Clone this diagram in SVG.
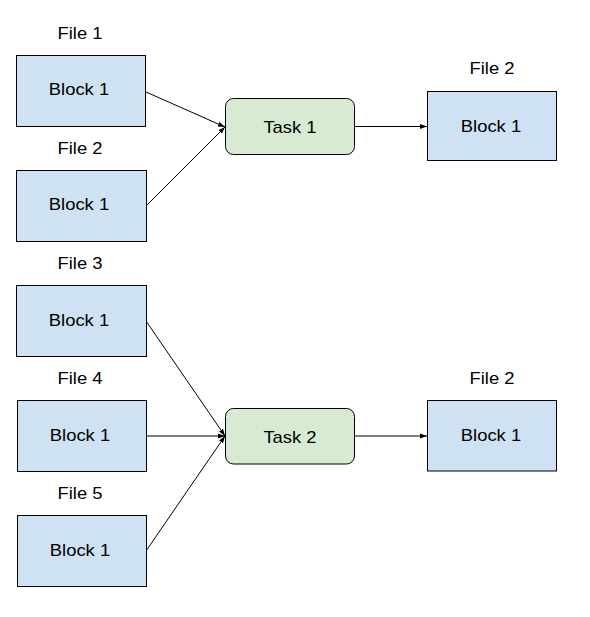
<svg xmlns="http://www.w3.org/2000/svg" width="590" height="617" viewBox="0 0 590 617">
<defs>
<style>
.blk{fill:#cfe2f3;stroke:#000;stroke-width:1}
.tsk{fill:#d9ead3;stroke:#000;stroke-width:1}
text{font-family:"Liberation Sans",Arial,sans-serif;font-size:16px;fill:#000;text-anchor:middle}
.c{fill:none;stroke:#000;stroke-width:1}
</style>
<marker id="ah" viewBox="0 0 10 10" refX="10" refY="5" markerWidth="7" markerHeight="7" markerUnits="userSpaceOnUse" orient="auto">
<path d="M0,1.5 L10,5 L0,8.5 Z" fill="#000"/>
</marker>
</defs>
<rect width="590" height="617" fill="#fff"/>
<g id="connectors">
<line class="c" x1="146" y1="92" x2="225" y2="127" marker-end="url(#ah)"/>
<line class="c" x1="146" y1="206" x2="225" y2="127" marker-end="url(#ah)"/>
<line class="c" x1="355" y1="126.5" x2="427" y2="126.5" marker-end="url(#ah)"/>
<line class="c" x1="146" y1="321" x2="225" y2="436" marker-end="url(#ah)"/>
<line class="c" x1="146" y1="436" x2="225" y2="436" marker-end="url(#ah)"/>
<line class="c" x1="146" y1="551" x2="225" y2="436" marker-end="url(#ah)"/>
<line class="c" x1="355" y1="436" x2="427" y2="436" marker-end="url(#ah)"/>
</g>
<g id="file1">
<text transform="translate(80 39) scale(1.15 1)">File 1</text>
<rect class="blk" x="16.5" y="55.5" width="129" height="71"/>
<text transform="translate(79 95) scale(1.15 1)">Block 1</text>
</g>
<g id="file2a">
<text transform="translate(80 154) scale(1.15 1)">File 2</text>
<rect class="blk" x="16.5" y="170.5" width="130" height="71"/>
<text transform="translate(79 210) scale(1.15 1)">Block 1</text>
</g>
<g id="task1">
<rect class="tsk" x="225.5" y="98.5" width="129" height="56" rx="8"/>
<text transform="translate(290 133) scale(1.15 1)">Task 1</text>
</g>
<g id="out1">
<text transform="translate(492 74) scale(1.15 1)">File 2</text>
<rect class="blk" x="427.5" y="91.5" width="129" height="69"/>
<text transform="translate(491 131.5) scale(1.15 1)">Block 1</text>
</g>
<g id="file3">
<text transform="translate(80 268.5) scale(1.15 1)">File 3</text>
<rect class="blk" x="16.5" y="285.5" width="130" height="71"/>
<text transform="translate(79 326) scale(1.15 1)">Block 1</text>
</g>
<g id="file4">
<text transform="translate(80 383.5) scale(1.15 1)">File 4</text>
<rect class="blk" x="17.5" y="400.5" width="129" height="71"/>
<text transform="translate(80 441) scale(1.15 1)">Block 1</text>
</g>
<g id="file5">
<text transform="translate(80 498.5) scale(1.15 1)">File 5</text>
<rect class="blk" x="17.5" y="515.5" width="129" height="71"/>
<text transform="translate(80 556) scale(1.15 1)">Block 1</text>
</g>
<g id="task2">
<rect class="tsk" x="225.5" y="408.5" width="129" height="55.5" rx="8"/>
<text transform="translate(290 443) scale(1.15 1)">Task 2</text>
</g>
<g id="out2">
<text transform="translate(492 384) scale(1.15 1)">File 2</text>
<rect class="blk" x="427.5" y="400.5" width="129" height="70.5"/>
<text transform="translate(491 441) scale(1.15 1)">Block 1</text>
</g>
</svg>
